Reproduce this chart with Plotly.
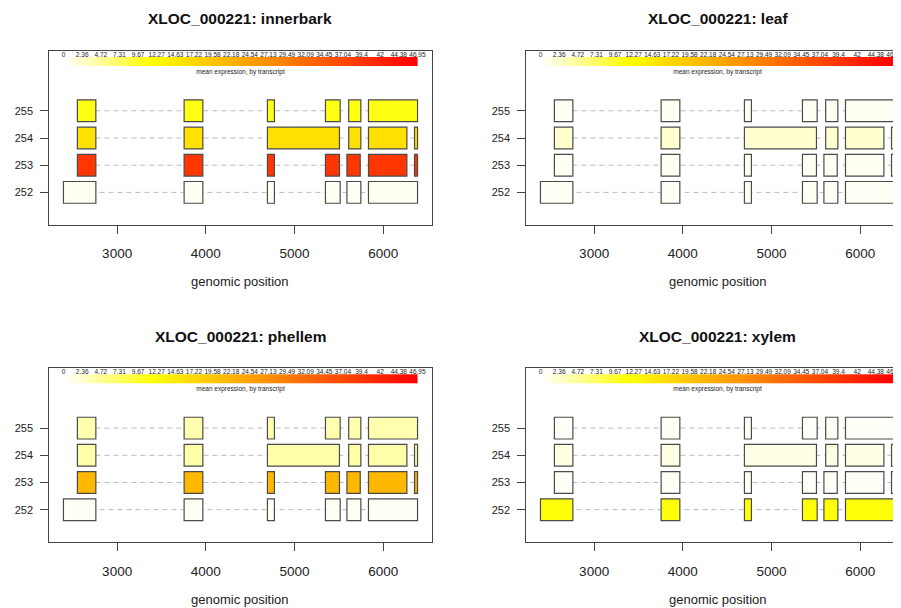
import numpy as np
import plotly.graph_objects as go
from plotly.colors import sample_colorscale

W, H = 901, 608
OFF = 8  # page body margin
gene = "XLOC_000221"
tissues = ["innerbark", "leaf", "phellem", "xylem"]
transcripts = [252, 253, 254, 255]

# exon coordinates (start, end) for each transcript
exons_252 = [(2395, 2760), (3755, 3966), (4694, 4773), (5348, 5514), (5590, 5747), (5833, 6386)]
exons_253 = [(2552, 2760), (3755, 3966), (4694, 4773), (5348, 5506), (5590, 5740), (5833, 6266), (6352, 6386)]
exons_254 = [(2552, 2760), (3755, 3966), (4694, 5506), (5610, 5747), (5833, 6266), (6352, 6386)]
exons_255 = [(2552, 2760), (3755, 3966), (4694, 4773), (5348, 5514), (5610, 5747), (5833, 6386)]
exons = [exons_252, exons_253, exons_254, exons_255]

# mean expression per transcript (252, 253, 254, 255)
expr_innerbark = [0.5, 39.5, 16.0, 10.8]
expr_leaf = [0.4, 0.5, 2.2, 0.5]
expr_phellem = [0.4, 21.5, 3.9, 3.7]
expr_xylem = [11.3, 0.3, 1.3, 0.3]
expr = [expr_innerbark, expr_leaf, expr_phellem, expr_xylem]

legend_labels = ["0", "2.36", "4.72", "7.31", "9.67", "12.27", "14.63", "17.22", "19.58", "22.18",
                 "24.54", "27.13", "29.49", "32.09", "34.45", "37.04", "39.4", "42", "44.38", "46.95"]
legend_max = 46.95
x_ticks = [3000, 4000, 5000, 6000]

colorscale = [[0.0, "#FFFFFF"], [0.25, "#FFFF00"], [1.0, "#FF0000"]]

FONT = "Liberation Sans, Arial, Helvetica, sans-serif"

def px(x):
    return (x - OFF) / W

def py(y):
    return 1 - (y - OFF) / H

gmin = min(s for tx in exons for s, e in tx)
gmax = max(e for tx in exons for s, e in tx)
span = gmax - gmin
xlo, xhi = gmin - 0.04 * span, gmax + 0.04 * span
ylo, yhi = 250.8, 257.2

left_px = [49.3, 526.3]
box_w = 382.4
scale = box_w / (xhi - xlo)
tops = [51, 368.3]
box_h = 174

fig = go.Figure()
layout = dict(width=W, height=H, margin=dict(l=0, r=0, t=0, b=0), showlegend=False,
              plot_bgcolor="white", paper_bgcolor="white", font=dict(family=FONT, color="#222"))
shapes = []
annotations = []

for k, tissue in enumerate(tissues):
    col, row = k % 2, k // 2
    sfx = "" if k == 0 else str(k + 1)
    xa, ya = "x" + sfx, "y" + sfx
    L = left_px[col]
    R = min(L + box_w, W + OFF)
    top = tops[row]
    bot = top + box_h
    xr_hi = xlo + (R - L) / scale
    layout["xaxis" + sfx] = dict(domain=[px(L), px(R)], range=[xlo, xr_hi], anchor=ya,
                                 tickvals=x_ticks, ticks="outside", ticklen=8, tickcolor="#444",
                                 showline=True, linecolor="#444", linewidth=1, mirror=True,
                                 showgrid=False, zeroline=False, tickfont=dict(size=13.5, color="#222"),
                                 ticklabelstandoff=8, fixedrange=True)
    layout["yaxis" + sfx] = dict(domain=[py(bot), py(top)], range=[ylo, yhi], anchor=xa,
                                 tickvals=transcripts, ticks="outside", ticklen=8, tickcolor="#444",
                                 showline=True, linecolor="#444", linewidth=1, mirror=(col == 0),
                                 showgrid=False, zeroline=False, tickfont=dict(size=11, color="#222"),
                                 ticklabelstandoff=5, fixedrange=True)

    # legend gradient
    nstep = 120
    edges = np.linspace(gmin + 1, gmax - 1, nstep + 1)
    zvals = np.linspace(0, legend_max, nstep)
    fig.add_trace(go.Heatmap(x=edges, y=[256.66, 256.98], z=[zvals], colorscale=colorscale,
                             zmin=0, zmax=legend_max, showscale=False, hoverinfo="skip",
                             xaxis=xa, yaxis=ya))
    fig.add_trace(go.Scatter(x=np.linspace(gmin + 1, gmax - 1, len(legend_labels)),
                             y=[257.05] * len(legend_labels), mode="text", text=legend_labels,
                             textfont=dict(size=6.5, color="#222", family=FONT), hoverinfo="skip",
                             cliponaxis=False, xaxis=xa, yaxis=ya))
    fig.add_trace(go.Scatter(x=[(gmin + gmax) / 2], y=[256.43], mode="text",
                             text=["mean expression, by transcript"],
                             textfont=dict(size=6.5, color="#222", family=FONT), hoverinfo="skip",
                             cliponaxis=False, xaxis=xa, yaxis=ya))

    colors = sample_colorscale(colorscale, [min(v / legend_max, 1) for v in expr[k]])
    for t, tx in enumerate(exons):
        yv = transcripts[t]
        shapes.append(dict(type="line", xref=xa, yref=ya, x0=tx[0][0], x1=tx[-1][1], y0=yv, y1=yv,
                           line=dict(color="#BBBBBB", width=1, dash="5px,4px"), layer="above"))
    for t, tx in enumerate(exons):
        yv = transcripts[t]
        for s, e in tx:
            shapes.append(dict(type="rect", xref=xa, yref=ya, x0=s, x1=e, y0=yv - 0.4, y1=yv + 0.4,
                               fillcolor=colors[t], line=dict(color="#4A4A4A", width=1.2), layer="above"))

    cx = L + box_w / 2
    annotations.append(dict(text="<b>%s: %s</b>" % (gene, tissue), x=px(cx), y=py(top - 32),
                            xref="paper", yref="paper", showarrow=False, xanchor="center",
                            yanchor="middle", font=dict(size=15.5, color="#111", family=FONT)))
    annotations.append(dict(text="genomic position", x=px(cx), y=py(bot + 57),
                            xref="paper", yref="paper", showarrow=False, xanchor="center",
                            yanchor="middle", font=dict(size=13, color="#222", family=FONT)))

layout["shapes"] = shapes
layout["annotations"] = annotations
fig.update_layout(**layout)
fig.write_html("out.html")
